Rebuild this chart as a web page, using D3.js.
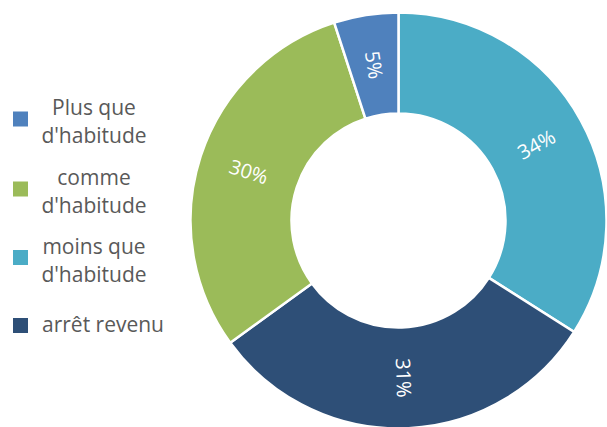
<!DOCTYPE html>
<html>
<head>
<meta charset="utf-8">
<script src="https://cdn.jsdelivr.net/npm/d3@7"></script>
<style>
  body { margin: 0; background: #fff; }
  text { font-family: 'Open Sans', sans-serif; }
</style>
</head>
<body>
<svg width="607" height="427"></svg>
<script>
const svg = d3.select('svg');

// slices, clockwise from 12 o'clock
const categories = ['moins que d\'habitude', 'arrêt revenu', 'comme d\'habitude', 'Plus que d\'habitude'];
const values = [34, 31, 30, 5];
const colors = ['#4bacc6', '#2e4f77', '#9bbb59', '#4f81bd'];

// legend entries, top to bottom
const legendLines = [
  ['Plus que', 'd\'habitude'],
  ['comme', 'd\'habitude'],
  ['moins que', 'd\'habitude'],
  ['arrêt revenu']
];
const legendColors = ['#4f81bd', '#9bbb59', '#4bacc6', '#2e4f77'];

const cx = 398.5, cy = 220.5;
const outerR = 208, innerR = 107;

const data = categories.map((c, i) => ({ name: c, value: values[i], color: colors[i] }));

const pie = d3.pie().sort(null).value(d => d.value);
const arc = d3.arc().innerRadius(innerR).outerRadius(outerR);

const g = svg.append('g').attr('transform', `translate(${cx},${cy})`);

g.selectAll('path')
  .data(pie(data))
  .enter().append('path')
    .attr('d', arc)
    .attr('fill', d => d.data.color)
    .attr('stroke', '#fff')
    .attr('stroke-width', 2.5);

// labels, turned along the radius
g.selectAll('text.lbl')
  .data(pie(data))
  .enter().append('text')
    .attr('class', 'lbl')
    .attr('transform', d => {
      const [x, y] = arc.centroid(d);
      let rot = (d.startAngle + d.endAngle) / 2 * 180 / Math.PI - 90;
      if (rot > 90) rot -= 180;
      return `translate(${x},${y}) rotate(${rot})`;
    })
    .attr('text-anchor', 'middle')
    .attr('dy', '0.35em')
    .attr('fill', '#fff')
    .attr('font-size', '20px')
    .text(d => d.data.value + '%');

// legend
const legendMid = [119, 189, 257.5, 325.5];
const legend = svg.append('g');
legendLines.forEach((lines, i) => {
  legend.append('rect')
    .attr('x', 13)
    .attr('y', legendMid[i] - 7.5)
    .attr('width', 15)
    .attr('height', 15)
    .attr('fill', legendColors[i]);
  const single = lines.length === 1;
  const t = legend.append('text')
    .attr('font-size', '21px')
    .attr('fill', '#595959')
    .attr('text-anchor', single ? 'start' : 'middle');
  lines.forEach((line, j) => {
    t.append('tspan')
      .attr('x', single ? 42 : 94)
      .attr('y', single ? legendMid[i] + 6.5 : legendMid[i] - 4 + j * 28.3)
      .text(line);
  });
});
</script>
</body>
</html>
